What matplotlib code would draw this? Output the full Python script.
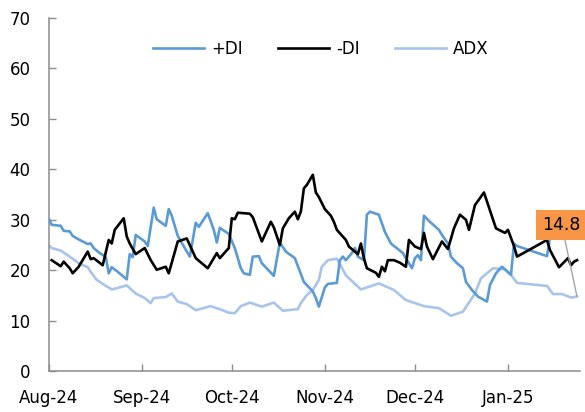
import matplotlib
matplotlib.use("Agg")
import matplotlib.pyplot as plt
import matplotlib.dates as mdates
import pandas as pd

# ---- data ----
pdi_dates = ["2024-08-01","2024-08-02","2024-08-05","2024-08-06","2024-08-08","2024-08-09","2024-08-11",
             "2024-08-14","2024-08-15","2024-08-16","2024-08-18","2024-08-20","2024-08-21","2024-08-22",
             "2024-08-24","2024-08-27","2024-08-28","2024-08-29","2024-08-30","2024-09-02","2024-09-03",
             "2024-09-05","2024-09-06","2024-09-09","2024-09-10","2024-09-11","2024-09-13","2024-09-17",
             "2024-09-19","2024-09-20","2024-09-23","2024-09-25","2024-09-26","2024-09-27","2024-09-30",
             "2024-10-02","2024-10-04","2024-10-05","2024-10-07","2024-10-08","2024-10-10","2024-10-11",
             "2024-10-15","2024-10-17","2024-10-19","2024-10-22","2024-10-25","2024-10-28","2024-10-29",
             "2024-10-30","2024-11-01","2024-11-02","2024-11-05","2024-11-06","2024-11-07","2024-11-08",
             "2024-11-09","2024-11-10","2024-11-11","2024-11-12","2024-11-14","2024-11-15","2024-11-16",
             "2024-11-19","2024-11-21","2024-11-23","2024-11-27","2024-11-29","2024-11-30","2024-12-01",
             "2024-12-02","2024-12-03","2024-12-04","2024-12-06","2024-12-09","2024-12-10","2024-12-12",
             "2024-12-13","2024-12-15","2024-12-17","2024-12-18","2024-12-20","2024-12-22","2024-12-25",
             "2024-12-26","2024-12-28","2024-12-30","2025-01-02","2025-01-03","2025-01-04","2025-01-14",
             "2025-01-15","2025-01-18","2025-01-24"]
pdi = [30.3, 29.0, 28.8, 27.8, 27.7, 26.8, 26.1,
       25.2, 25.3, 24.4, 23.4, 22.7, 19.4, 20.6,
       19.7, 18.2, 23.2, 22.6, 27.0, 25.7, 24.8,
       32.4, 30.1, 28.8, 32.1, 30.8, 26.8, 22.7,
       29.4, 28.6, 31.3, 28.0, 25.5, 28.4, 27.2,
       24.4, 20.4, 19.4, 19.1, 22.7, 22.8, 21.4,
       18.9, 25.5, 23.7, 22.4, 17.7, 15.8, 14.5,
       12.8, 16.6, 17.3, 17.5, 22.0, 22.7, 22.0,
       22.7, 23.4, 24.4, 22.7, 22.0, 31.0, 31.6,
       31.0, 27.6, 25.3, 23.4, 21.4, 20.4, 22.4,
       23.0, 22.0, 30.8, 29.6, 28.0, 27.0, 25.3,
       22.7, 21.4, 20.4, 17.7, 16.1, 14.8, 13.8,
       17.1, 19.4, 20.7, 19.1, 25.3, 24.8, 22.8,
       26.5, 29.0, 29.5]

mdi_dates = ["2024-08-02","2024-08-04","2024-08-05","2024-08-06","2024-08-08","2024-08-09","2024-08-11",
             "2024-08-14","2024-08-15","2024-08-16","2024-08-19","2024-08-21","2024-08-22","2024-08-23",
             "2024-08-26","2024-08-27","2024-08-28","2024-08-30","2024-09-02","2024-09-04","2024-09-06",
             "2024-09-09","2024-09-10","2024-09-13","2024-09-16","2024-09-19","2024-09-23","2024-09-26",
             "2024-09-27","2024-09-30","2024-10-01","2024-10-02","2024-10-03","2024-10-07","2024-10-08",
             "2024-10-11","2024-10-14","2024-10-15","2024-10-17","2024-10-18","2024-10-20","2024-10-22",
             "2024-10-23","2024-10-24","2024-10-25","2024-10-26","2024-10-28","2024-10-29","2024-10-30",
             "2024-11-01","2024-11-03","2024-11-04","2024-11-05","2024-11-08","2024-11-09","2024-11-12",
             "2024-11-13","2024-11-14","2024-11-15","2024-11-18","2024-11-19","2024-11-20","2024-11-21",
             "2024-11-22","2024-11-24","2024-11-26","2024-11-28","2024-11-29","2024-12-01","2024-12-03",
             "2024-12-04","2024-12-05","2024-12-07","2024-12-10","2024-12-12","2024-12-14","2024-12-16",
             "2024-12-18","2024-12-19","2024-12-21","2024-12-24","2024-12-28","2024-12-31","2025-01-01",
             "2025-01-03","2025-01-04","2025-01-14","2025-01-15","2025-01-18","2025-01-21","2025-01-22",
             "2025-01-23","2025-01-24"]
mdi = [22.0, 21.2, 20.8, 21.7, 20.4, 19.4, 20.7,
       23.7, 22.2, 22.4, 21.0, 26.0, 25.3, 28.0,
       30.3, 26.7, 25.3, 23.2, 24.4, 22.0, 20.1,
       20.7, 19.4, 25.7, 26.3, 22.4, 20.4, 23.4,
       22.4, 24.4, 30.3, 30.1, 31.4, 31.2, 30.5,
       25.7, 29.6, 28.5, 25.0, 28.3, 30.3, 31.6,
       30.1, 31.6, 36.2, 36.9, 38.9, 35.4, 34.5,
       32.1, 30.8, 29.6, 28.0, 26.0, 24.7, 23.2,
       25.3, 22.4, 20.4, 19.5, 18.7, 20.7, 19.8,
       22.0, 22.0, 21.5, 20.7, 26.0, 24.7, 24.2,
       27.4, 24.7, 22.2, 25.7, 24.2, 28.3, 31.0,
       30.0, 28.0, 32.9, 35.4, 28.3, 27.4, 28.0,
       24.8, 22.7, 26.0, 24.0, 20.6, 22.4, 21.0,
       21.7, 22.0]

adx_dates = ["2024-08-01","2024-08-02","2024-08-05","2024-08-08","2024-08-11","2024-08-14","2024-08-15",
             "2024-08-17","2024-08-19","2024-08-22","2024-08-24","2024-08-27","2024-08-30","2024-09-02",
             "2024-09-04","2024-09-05","2024-09-09","2024-09-11","2024-09-13","2024-09-16","2024-09-19",
             "2024-09-24","2024-09-27","2024-09-30","2024-10-02","2024-10-04","2024-10-07","2024-10-11",
             "2024-10-15","2024-10-18","2024-10-23","2024-10-24","2024-10-26","2024-10-28","2024-10-30",
             "2024-10-31","2024-11-02","2024-11-05","2024-11-08","2024-11-13","2024-11-19","2024-11-24",
             "2024-11-28","2024-12-04","2024-12-09","2024-12-13","2024-12-17","2024-12-21","2024-12-23",
             "2024-12-27","2024-12-31","2025-01-02","2025-01-04","2025-01-14","2025-01-16","2025-01-19",
             "2025-01-22","2025-01-24"]
adx = [25.0, 24.4, 23.9, 22.7, 21.4, 20.6, 19.7,
       18.1, 17.3, 16.2, 16.5, 17.0, 15.4, 14.5,
       13.5, 14.5, 14.7, 15.4, 13.8, 13.3, 12.1,
       12.9, 12.3, 11.6, 11.5, 12.9, 13.6, 12.8,
       13.6, 12.0, 12.3, 13.5, 15.1, 16.1, 18.1,
       20.7, 22.0, 22.3, 19.0, 16.2, 17.4, 16.1,
       14.1, 12.9, 12.5, 11.0, 11.8, 15.4, 18.4,
       20.4, 20.2, 19.1, 17.5, 16.9, 15.3, 15.3,
       14.6, 14.8]

series_names = ["+DI", "-DI", "ADX"]
last_label = "14.8"

# ---- plot ----
plt.rcParams['font.family'] = ['DejaVu Sans']
fig = plt.figure(figsize=(5.85, 4.12), dpi=100)
ax = fig.add_axes([0.0832, 0.0988, 0.9083, 0.8582])

c_pdi = "#5B9BD5"
c_mdi = "#000000"
c_adx = "#A9C4EB"

ax.plot(pd.to_datetime(pdi_dates), pdi, color=c_pdi, lw=1.9, label=series_names[0], zorder=3)
ax.plot(pd.to_datetime(mdi_dates), mdi, color=c_mdi, lw=1.9, label=series_names[1], zorder=4)
ax.plot(pd.to_datetime(adx_dates), adx, color=c_adx, lw=1.9, label=series_names[2], zorder=2)

ax.set_ylim(0, 70)
ax.set_yticks(range(0, 71, 10))
ax.set_xlim(pd.Timestamp("2024-08-01"), pd.Timestamp("2025-01-25"))
ax.xaxis.set_major_locator(mdates.MonthLocator())
ax.xaxis.set_major_formatter(mdates.DateFormatter("%b-%y"))

for s in ["top", "right"]:
    ax.spines[s].set_visible(False)
for s in ["left", "bottom"]:
    ax.spines[s].set_color("#8C8C8C")
    ax.spines[s].set_linewidth(1.1)

ax.tick_params(axis="y", direction="in", length=5, width=1, color="#8C8C8C",
               labelsize=12, pad=13, labelcolor="#000000")
ax.tick_params(axis="x", direction="in", length=5, width=1, color="#8C8C8C",
               labelsize=12, pad=12.5, labelcolor="#000000")

leg = ax.legend(loc="center", bbox_to_anchor=(0.512, 0.912), ncol=3, frameon=False,
                handlelength=3.1, handletextpad=0.4, columnspacing=2.1, fontsize=12)

ax.annotate(last_label, xy=(pd.Timestamp(adx_dates[-1]), adx[-1]),
            xytext=(-11.0, 51.5), textcoords="offset points",
            ha="center", va="center", fontsize=12.5, color="#000000",
            bbox=dict(boxstyle="square,pad=0.35", fc="#F79646", ec="none"),
            arrowprops=dict(arrowstyle="-", color="#A6A6A6", lw=1.0,
                            shrinkA=0, shrinkB=0, relpos=(0.55, 0.0)),
            zorder=10, annotation_clip=False)

fig.savefig("out.png", dpi=100)
